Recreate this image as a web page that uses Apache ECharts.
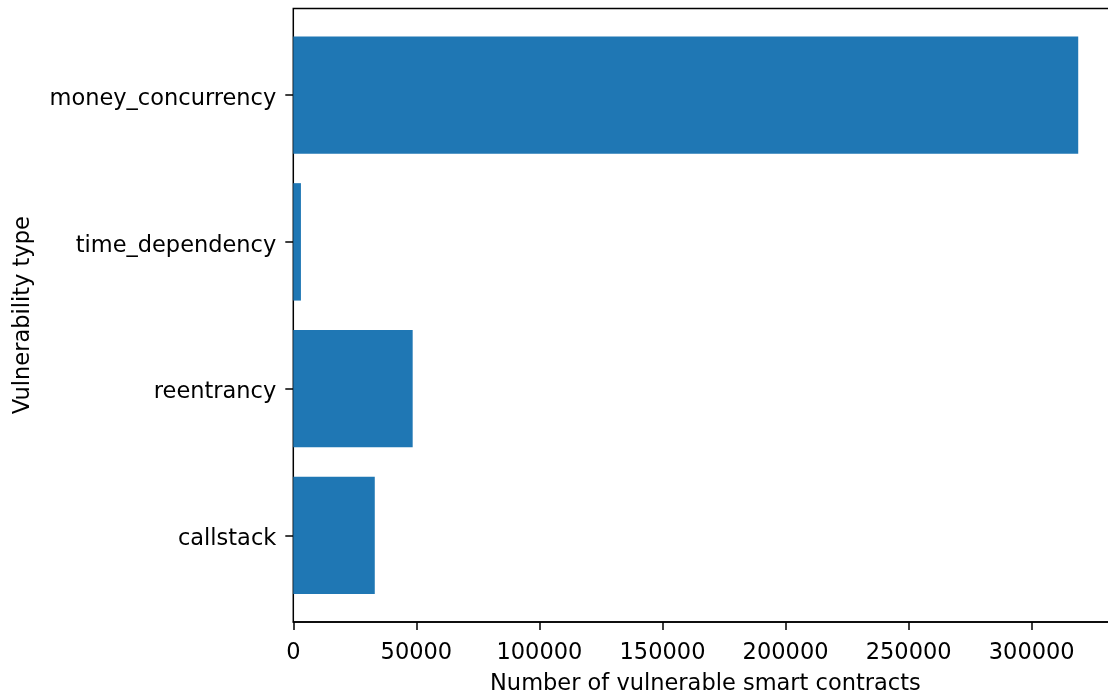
<!DOCTYPE html>
<html>
<head>
<meta charset="utf-8">
<title>Vulnerable smart contracts by vulnerability type</title>
<script src="https://cdn.jsdelivr.net/npm/echarts@6/dist/echarts.min.js"></script>
<style>
  html, body { margin: 0; padding: 0; background: #ffffff; overflow: hidden; }
  #chart { width: 1120px; height: 694px; }
</style>
</head>
<body>
<div id="chart"></div>
<script>
// Vulnerability categories, bottom to top
const categories = ['callstack', 'reentrancy', 'time_dependency', 'money_concurrency'];
// Number of vulnerable smart contracts per category
const counts = [33100, 48500, 3100, 318900];
// x-axis tick step
const tickStep = 50000;

const FONT = 'DejaVu Sans';
const FS = 22.5;
const AXIS_COLOR = '#000000';
const CANVAS_W = 1120;

// value range: 5% headroom past the largest bar
const xMax = Math.max(...counts) * 1.05;

// y range in category units: bars of height 0.8 plus 5% margins
const yPad = (categories.length - 1 + 0.8) * 0.05;
const frameTop = 8.5, frameBottom = 622, frameLeft = 293.3;
const pxPerUnit = (frameBottom - frameTop) / (categories.length - 1 + 0.8 + 2 * yPad);
const bandTop = frameTop + (yPad + 0.4 - 0.5) * pxPerUnit;
const bandHeight = categories.length * pxPerUnit;
// plot area runs a little past the visible page edge
const frameRight = CANVAS_W - (frameLeft + xMax * ((1031.7 - 293.3) / 300000));

const chart = echarts.init(document.getElementById('chart'), null, { renderer: 'canvas' });

chart.setOption({
  animation: false,
  backgroundColor: '#ffffff',
  textStyle: { fontFamily: FONT },
  grid: [
    {
      // frame with the value axis
      left: frameLeft, right: frameRight, top: frameTop, bottom: 694 - frameBottom,
      outerBoundsMode: 'none', containLabel: false,
      show: true, borderColor: AXIS_COLOR, borderWidth: 1.5, backgroundColor: 'transparent'
    },
    {
      // category bands for the bars
      left: frameLeft, right: frameRight, top: bandTop, height: bandHeight,
      outerBoundsMode: 'none', containLabel: false,
      show: false
    }
  ],
  xAxis: [
    {
      gridIndex: 0,
      type: 'value',
      min: 0,
      max: xMax,
      interval: tickStep,
      splitLine: { show: false },
      axisLine: { show: true, lineStyle: { color: AXIS_COLOR, width: 1.5 } },
      axisTick: { show: true, inside: false, length: 8, lineStyle: { color: AXIS_COLOR, width: 1.5 } },
      axisLabel: {
        color: '#000000', fontFamily: FONT, fontSize: FS, margin: 20,
        formatter: v => (v % tickStep === 0 ? String(v) : '')
      },
      name: 'Number of vulnerable smart contracts',
      nameLocation: 'middle',
      nameGap: 51,
      nameTextStyle: { color: '#000000', fontFamily: FONT, fontSize: FS }
    },
    {
      gridIndex: 1,
      type: 'value',
      min: 0,
      max: xMax,
      show: false
    }
  ],
  yAxis: [
    {
      gridIndex: 0,
      type: 'value',
      show: false
    },
    {
      gridIndex: 1,
      type: 'category',
      data: categories,
      axisLine: { show: false },
      splitLine: { show: false },
      axisTick: { show: true, alignWithLabel: true, inside: false, length: 8, lineStyle: { color: AXIS_COLOR, width: 1.5 } },
      axisLabel: {
        color: '#000000', fontFamily: FONT, fontSize: FS, margin: 17,
        formatter: v => '{t|' + v + '}',
        rich: { t: { fontFamily: FONT, fontSize: FS, color: '#000000', padding: [8, 0, 0, 0] } }
      },
      name: 'Vulnerability type',
      nameLocation: 'middle',
      nameGap: 259,
      nameTextStyle: { color: '#000000', fontFamily: FONT, fontSize: FS }
    }
  ],
  series: [
    {
      type: 'bar',
      xAxisIndex: 1,
      yAxisIndex: 1,
      data: counts,
      barWidth: '80%',
      itemStyle: { color: '#1f77b4' }
    }
  ]
});
</script>
</body>
</html>
